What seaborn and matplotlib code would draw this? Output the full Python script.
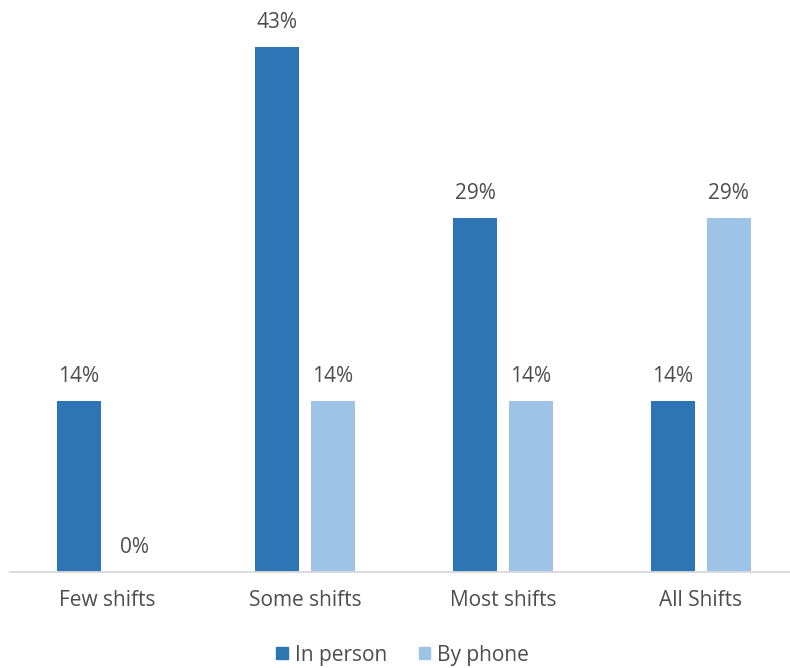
import matplotlib
matplotlib.use("Agg")
import matplotlib.pyplot as plt
import seaborn as sns
import pandas as pd

categories = ["Few shifts", "Some shifts", "Most shifts", "All Shifts"]
in_person = [14, 43, 29, 14]
by_phone = [0, 14, 14, 29]
series_names = ["In person", "By phone"]

df = pd.DataFrame({
    "category": categories * 2,
    "value": in_person + by_phone,
    "series": [series_names[0]] * 4 + [series_names[1]] * 4,
})

sns.set_theme(style="white")
plt.rcParams["font.family"] = ["Open Sans", "DejaVu Sans"]
text_color = "#4D4D4D"
font_size = 15
palette = {"In person": "#2E75B6", "By phone": "#9DC3E6"}

fig = plt.figure(figsize=(7.9, 6.68), dpi=100)
ax = fig.add_axes([10 / 790, 96 / 668, 780 / 790, 560 / 668])

sns.barplot(data=df, x="category", y="value", hue="series", palette=palette,
            width=0.564, gap=0.21, saturation=1, linewidth=0, ax=ax, legend=False)

for container in ax.containers:
    ax.bar_label(container, labels=[f"{v:.0f}%" for v in container.datavalues],
                 padding=10, fontsize=font_size, color=text_color)

ax.set_xlim(-0.49, 3.45)
ax.set_ylim(0, 560 / 12.21)
ax.set_xlabel("")
ax.set_ylabel("")
ax.set_yticks([])
ax.tick_params(axis="x", length=0, pad=13, labelsize=font_size, labelcolor=text_color)
for side in ["top", "left", "right"]:
    ax.spines[side].set_visible(False)
ax.spines["bottom"].set_color("#D9D9D9")
ax.spines["bottom"].set_linewidth(1.3)

handles = [plt.Rectangle((0, 0), 1, 1, color=palette[n]) for n in series_names]
fig.legend(handles, series_names, loc="center", bbox_to_anchor=(0.51, 13 / 668),
           ncol=2, frameon=False, fontsize=font_size, labelcolor=text_color,
           handlelength=0.55, handleheight=0.55, handletextpad=0.35, columnspacing=1.5)

fig.savefig("out.png", dpi=100)
